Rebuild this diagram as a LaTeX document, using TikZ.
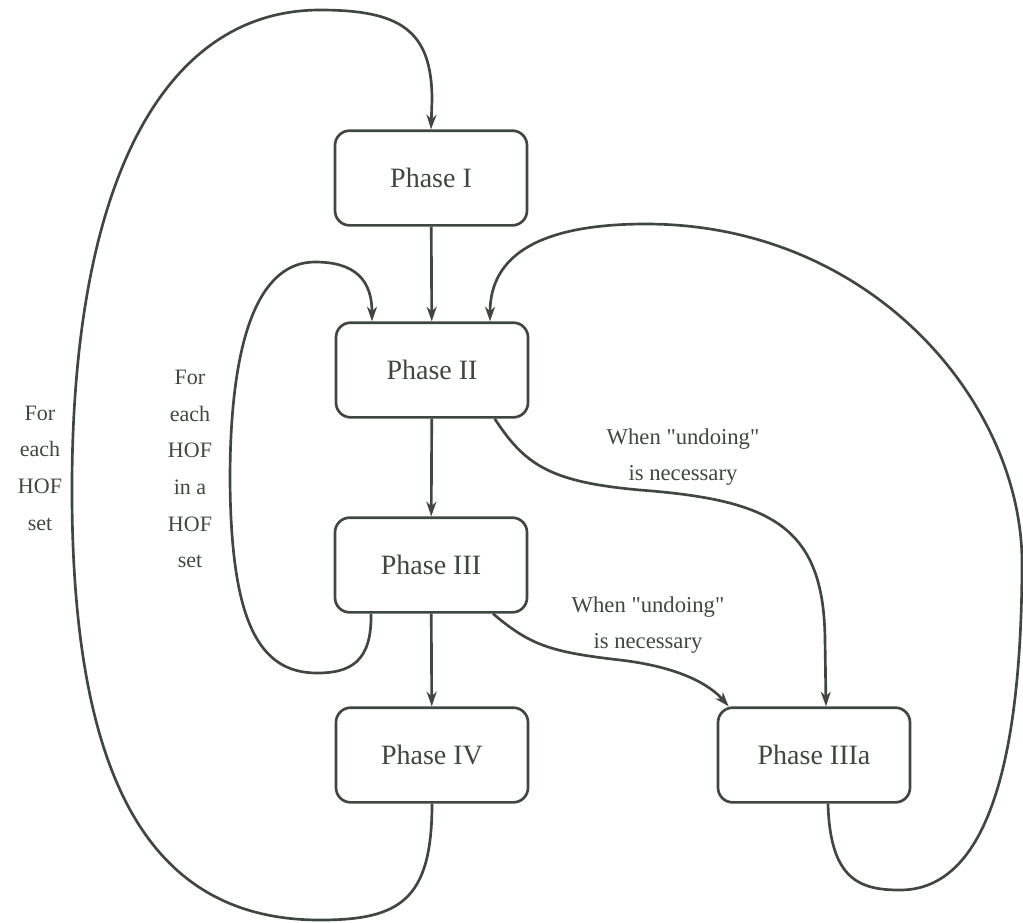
\documentclass[tikz,border=0pt]{standalone}
\usepackage{fontspec}
\setmainfont{Liberation Serif}[Ligatures=TeXOff]
\usetikzlibrary{arrows.meta}
\definecolor{ink}{RGB}{62,72,64}
\tikzset{
  phase/.style={draw=ink, line width=2pt, rounded corners=11pt, minimum width=144pt, minimum height=71pt, inner sep=0pt, text=ink, font=\fontsize{21}{25}\selectfont},
  conn/.style={draw=ink, line width=2pt, -{Stealth[length=11pt,width=7.5pt,inset=3.5pt]}},
  lbl/.style={text=ink, align=center, inner sep=0pt, font=\fontsize{16.5}{27.5}\selectfont},
  wlbl/.style={text=ink, align=center, inner sep=0pt, font=\fontsize{17}{27.5}\selectfont}
}
\begin{document}
\begin{tikzpicture}[x=0.75pt,y=-0.75pt]
\useasboundingbox (0,0) rectangle (1023,922);
\node[phase] (p1) at (431,178) {Phase I};
\node[phase] (p2) at (432,370) {Phase II};
\node[phase] (p3) at (431,565) {Phase III};
\node[phase] (p4) at (432,755) {Phase IV};
\node[phase] (p3a) at (814,755) {Phase IIIa};

\draw[conn] (p1) -- (p2);
\draw[conn] (p2) -- (p3);
\draw[conn] (p3) -- (p4);

% big left loop
\draw[conn] (p4.south) .. controls (432,900) and (400,920) .. (320,920)
  .. controls (150,920) and (74,780) .. (72,500)
  .. controls (70,180) and (165,10) .. (320,10)
  .. controls (400,10) and (432,30) .. (432,100) -- (p1.north);

% inner loop
\draw[conn] ([xshift=-45pt]p3.south) .. controls (372,662) and (350,673) .. (317,673)
  .. controls (258,673) and (231,620) .. (230,480)
  .. controls (230,330) and (262,262) .. (315,262)
  .. controls (355,262) and (372,280) .. ([xshift=-45pt]p2.north);

% right loop
\draw[conn] ([xshift=10.5pt]p3a.south) .. controls (830,880) and (860,890) .. (900,890)
  .. controls (1000,890) and (1022,720) .. (1022,560)
  .. controls (1020,400) and (870,224) .. (646,224)
  .. controls (540,224) and (490,255) .. ([xshift=43.5pt]p2.north);

% II -> IIIa
\draw[conn] ([xshift=47pt]p2.south) .. controls (525,465) and (550,482) .. (640,490)
  .. controls (770,500) and (824,525) .. (825,640) -- ([xshift=9pt]p3a.north);

% III -> IIIa
\draw[conn] ([xshift=46.5pt]p3.south) .. controls (530,645) and (550,652) .. (620,660)
  .. controls (680,667) and (710,685) .. ([xshift=9pt]p3a.north west);

\node[lbl] (l1) at (40,468) {For\\each\\HOF\\set};
\node[lbl] (l2) at (190,469) {For\\each\\HOF\\in a\\HOF\\set};
\node[wlbl] (l3) at (683,457) {When "undoing"\\is necessary};
\node[wlbl] (l4) at (648,625) {When "undoing"\\is necessary};
\end{tikzpicture}
\end{document}
